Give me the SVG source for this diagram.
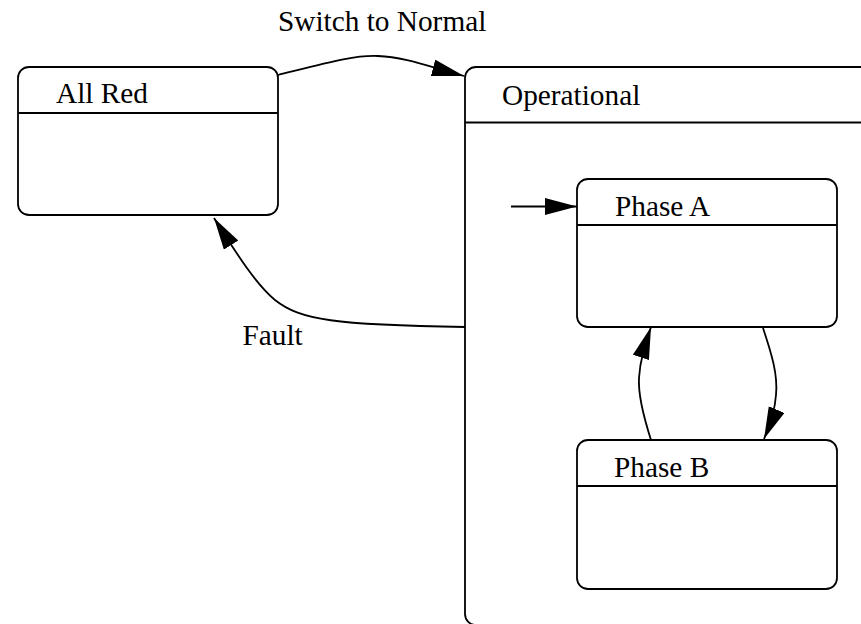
<svg xmlns="http://www.w3.org/2000/svg" width="861" height="624" viewBox="0 0 861 624">
<style>
.box{fill:#fff;stroke:#000;stroke-width:1.8}
.sep{stroke:#000;stroke-width:1.8}
.lbl{font-family:"Liberation Serif","Times New Roman",serif;font-size:29.3px;fill:#000}
.edge{fill:none;stroke:#000;stroke-width:1.8}
</style>
<defs>
<marker id="arr" markerUnits="userSpaceOnUse" markerWidth="34" markerHeight="18" refX="32" refY="8.5" orient="auto">
<path d="M0,0 L32,8.5 L0,17 Z" fill="#000"/>
</marker>
</defs>
<rect width="861" height="624" fill="#fff"/>
<g id="node-operational">
<rect class="box" x="465" y="67" width="440" height="558" rx="11" ry="11"/>
<line class="sep" x1="465" y1="122.5" x2="861" y2="122.5"/>
<text class="lbl" x="502" y="105">Operational</text>
</g>
<g id="node-allred">
<rect class="box" x="18" y="67" width="260" height="148" rx="11" ry="11"/>
<line class="sep" x1="18" y1="113" x2="278" y2="113"/>
<text class="lbl" x="56" y="103">All Red</text>
</g>
<g id="node-phasea">
<rect class="box" x="577" y="179" width="260" height="148" rx="11" ry="11"/>
<line class="sep" x1="577" y1="225" x2="837" y2="225"/>
<text class="lbl" x="615" y="216">Phase A</text>
</g>
<g id="node-phaseb">
<rect class="box" x="577" y="440" width="260" height="149" rx="11" ry="11"/>
<line class="sep" x1="577" y1="486" x2="837" y2="486"/>
<text class="lbl" x="614" y="477">Phase B</text>
</g>
<g id="connectors">
<path class="edge" marker-end="url(#arr)" d="M278,75 C330,62 355,55 378,56 C405,57 430,67 464,76"/>
<text class="lbl" x="278" y="30.5">Switch to Normal</text>
<path class="edge" marker-end="url(#arr)" d="M465,327 C335,325 300,320 275,300 C256,284 238,256 214,218"/>
<text class="lbl" x="242.5" y="345">Fault</text>
<path class="edge" marker-end="url(#arr)" d="M511,206.5 L577,206.5"/>
<path class="edge" marker-end="url(#arr)" d="M763,328 C772,355 778,375 776,395 C775,410 770,425 764,439"/>
<path class="edge" marker-end="url(#arr)" d="M651,440 C643,415 638,395 639,378 C640,360 645,345 651,327"/>
</g>
</svg>
